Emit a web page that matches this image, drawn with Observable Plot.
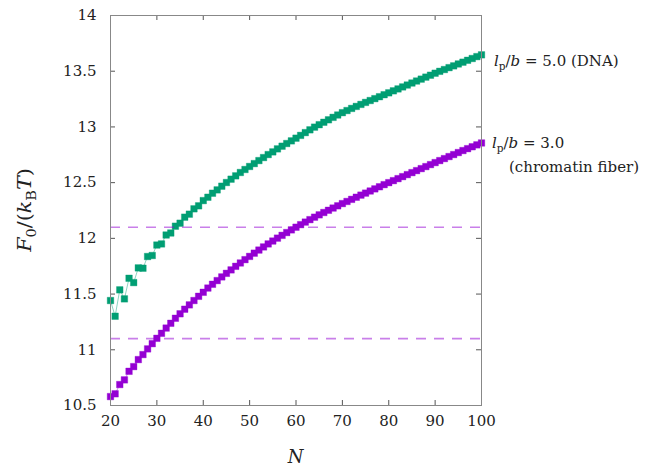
<!DOCTYPE html>
<html>
<head>
<meta charset="utf-8">
<script src="https://cdn.jsdelivr.net/npm/d3@7"></script>
<script src="https://cdn.jsdelivr.net/npm/@observablehq/plot@0.6"></script>
<style>
  html, body { margin: 0; padding: 0; background: #fff; }
  svg text { white-space: pre; font-family: "DejaVu Serif", serif !important; }
</style>
</head>
<body>
<div id="chart"></div>
<script>
// ---- data ----
const N = [20,21,22,23,24,25,26,27,28,29,30,31,32,33,34,35,36,37,38,39,40,
           41,42,43,44,45,46,47,48,49,50,51,52,53,54,55,56,57,58,59,60,
           61,62,63,64,65,66,67,68,69,70,71,72,73,74,75,76,77,78,79,80,
           81,82,83,84,85,86,87,88,89,90,91,92,93,94,95,96,97,98,99,100];

// l_p/b = 5.0 (DNA)
const F_dna = [11.442,11.301,11.538,11.457,11.642,11.603,11.735,11.732,11.837,11.846,11.940,
               11.950,12.030,12.048,12.109,12.136,12.190,12.217,12.265,12.292,12.339,
               12.369,12.405,12.435,12.468,12.501,12.531,12.561,12.591,12.618,12.645,
               12.671,12.698,12.725,12.752,12.776,12.803,12.827,12.851,12.875,12.899,
               12.924,12.949,12.974,12.998,13.020,13.042,13.064,13.086,13.107,13.128,
               13.147,13.166,13.184,13.202,13.220,13.237,13.254,13.271,13.289,13.306,
               13.324,13.341,13.359,13.376,13.394,13.412,13.429,13.447,13.464,13.482,
               13.499,13.515,13.532,13.548,13.565,13.581,13.598,13.614,13.631,13.647];

// l_p/b = 3.0 (chromatin fiber)
const F_chrom = [10.580,10.605,10.688,10.730,10.807,10.849,10.912,10.957,11.008,11.055,11.103,
                 11.148,11.195,11.238,11.283,11.323,11.364,11.403,11.442,11.480,11.516,
                 11.554,11.588,11.621,11.654,11.686,11.717,11.749,11.779,11.809,11.838,
                 11.867,11.895,11.923,11.950,11.976,12.002,12.027,12.052,12.076,12.100,
                 12.123,12.146,12.168,12.190,12.211,12.232,12.252,12.272,12.292,12.312,
                 12.331,12.350,12.369,12.388,12.406,12.425,12.444,12.463,12.482,12.500,
                 12.518,12.536,12.554,12.572,12.590,12.608,12.626,12.644,12.662,12.680,
                 12.698,12.716,12.734,12.752,12.770,12.788,12.805,12.822,12.839,12.856];

const refLevels = [12.1, 11.1];
const xTicks = [20,30,40,50,60,70,80,90,100];
const yTicks = [10.5,11,11.5,12,12.5,13,13.5,14];

const GREEN = "#009e73";
const PURPLE = "#9400d3";
const FONT = "DejaVu Serif, serif";

const rows = N.map((n, i) => ({N: n, dna: F_dna[i], chrom: F_chrom[i]}));

const W = 654, H = 467, mL = 110, mR = 173, mT = 15, mB = 62;
const frameW = W - mL - mR, frameH = H - mT - mB, tickLen = 5;

const plot = Plot.plot({
  width: W, height: H,
  marginLeft: mL, marginRight: mR, marginTop: mT, marginBottom: mB,
  style: {fontFamily: FONT, fontSize: "15px", color: "#222", background: "#fff", overflow: "visible"},
  x: {domain: [20, 100], label: null},
  y: {domain: [10.5, 14], label: null},
  marks: [
    Plot.line(rows, {x: "N", y: "chrom", stroke: PURPLE, strokeOpacity: 0.45, strokeWidth: 1}),
    Plot.line(rows, {x: "N", y: "dna", stroke: GREEN, strokeOpacity: 0.45, strokeWidth: 1}),
    Plot.dot(rows, {x: "N", y: "chrom", symbol: "square", r: 3.7, fill: PURPLE, stroke: PURPLE, strokeOpacity: 0.35, strokeWidth: 1}),
    Plot.dot(rows, {x: "N", y: "dna", symbol: "square", r: 3.7, fill: GREEN, stroke: GREEN, strokeOpacity: 0.35, strokeWidth: 1}),
    Plot.ruleY(refLevels, {stroke: PURPLE, strokeOpacity: 0.5, strokeWidth: 1.6, strokeDasharray: "10,8"}),
    Plot.tickX(xTicks, {x: d => d, stroke: "#555", insetTop: frameH - tickLen}),
    Plot.tickX(xTicks, {x: d => d, stroke: "#555", insetBottom: frameH - tickLen}),
    Plot.tickY(yTicks, {y: d => d, stroke: "#555", insetRight: frameW - tickLen}),
    Plot.tickY(yTicks, {y: d => d, stroke: "#555", insetLeft: frameW - tickLen}),
    Plot.frame({stroke: "#888"}),
    Plot.axisX(xTicks, {tickSize: 0, tickPadding: 10, fontSize: 15, fontFamily: FONT, label: null}),
    Plot.axisY(yTicks, {tickSize: 0, tickPadding: 14, fontSize: 15, fontFamily: FONT, label: null, tickFormat: d => String(d)})
  ]
});

document.getElementById("chart").appendChild(plot);

// ---- rich-text labels positioned through Plot's scales ----
const xs = plot.scale("x"), ys = plot.scale("y");
const svg = d3.select(plot);

function rich(g, parts, size, anchor = "start") {
  const t = g.append("text")
    .attr("font-family", FONT)
    .attr("font-size", size)
    .attr("text-anchor", anchor)
    .attr("fill", "#222");
  let shift = 0;
  for (const p of parts) {
    const s = t.append("tspan").text(p.t);
    if (p.i) s.attr("font-style", "italic");
    const target = p.sub ? Math.round(size * 0.28) : 0;
    if (target !== shift) { s.attr("dy", target - shift); shift = target; }
    if (p.sub) s.attr("font-size", size * 0.7);
  }
  return t;
}

const lx = xs.apply(100) + 13;

// l_p/b = 5.0 (DNA)
rich(svg.append("g").attr("transform", `translate(${lx},${ys.apply(F_dna[F_dna.length - 1]) + 12})`),
  [{t: "l", i: true}, {t: "p", sub: true}, {t: "/"}, {t: "b", i: true}, {t: " = 5.0 (DNA)"}], 15);

// l_p/b = 3.0 (chromatin fiber)
rich(svg.append("g").attr("transform", `translate(${lx - 2},${ys.apply(F_chrom[F_chrom.length - 1]) + 6})`),
  [{t: "l", i: true}, {t: "p", sub: true}, {t: "/"}, {t: "b", i: true}, {t: " = 3.0"}], 15);
rich(svg.append("g").attr("transform", `translate(${lx + 15},${ys.apply(F_chrom[F_chrom.length - 1]) + 30})`),
  [{t: "(chromatin fiber)"}], 15);

// y-axis title
rich(svg.append("g").attr("transform", `translate(31,${(mT + H - mB) / 2}) rotate(-90) scale(1.15,1)`),
  [{t: "F", i: true}, {t: "0", sub: true}, {t: "/("}, {t: "k", i: true}, {t: "B", sub: true}, {t: "T", i: true}, {t: ")"}], 18, "middle");

// x-axis title
rich(svg.append("g").attr("transform", `translate(${(xs.apply(20) + xs.apply(100)) / 2},${H - 4})`),
  [{t: "N", i: true}], 18, "middle");
</script>
</body>
</html>
